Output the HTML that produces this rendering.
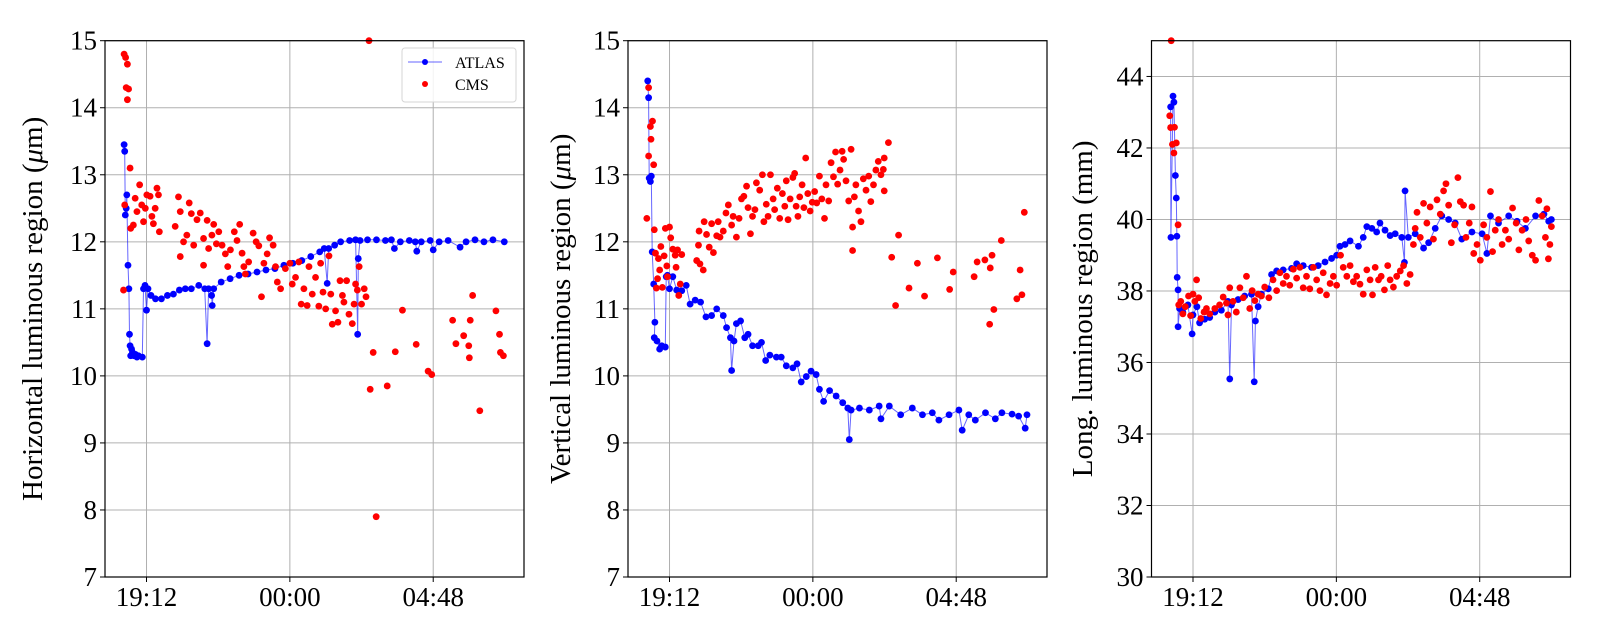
<!DOCTYPE html>
<html><head><meta charset="utf-8"><style>
html,body{margin:0;padding:0;background:#fff;}
svg{display:block;font-family:"Liberation Serif","DejaVu Serif",serif;}
</style></head><body>
<svg id="fig" width="1600" height="640" viewBox="0 0 1600 640" xmlns="http://www.w3.org/2000/svg"></svg>
<script>
// time in hours relative to 19:12
const xTickHours = [0, 4.8, 9.6];
const xTickLabels = ["19:12", "00:00", "04:48"];
const yTicksHV = [7, 8, 9, 10, 11, 12, 13, 14, 15];
const yTicksL = [30, 32, 34, 36, 38, 40, 42, 44];

const hAtlasT = [-0.75,-0.73,-0.71,-0.68,-0.66,-0.62,-0.59,-0.57,-0.55,-0.53,-0.50,-0.47,-0.42,-0.37,-0.32,-0.27,-0.14,-0.10,-0.05,0.0,0.05,0.15,0.3,0.5,0.7,0.9,1.1,1.3,1.5,1.75,1.95,2.03,2.08,2.18,2.2,2.25,2.5,2.8,3.1,3.4,3.7,4.0,4.3,4.6,4.9,5.2,5.5,5.8,5.95,6.05,6.1,6.3,6.5,6.8,7.0,7.07,7.09,7.15,7.4,7.7,8.0,8.2,8.3,8.5,8.8,9.0,9.05,9.2,9.5,9.6,9.8,10.1,10.5,10.7,11.0,11.3,11.6,11.98];
const hAtlasV = [13.45,13.35,12.4,12.5,12.7,11.65,11.3,10.62,10.45,10.3,10.4,10.35,10.3,10.32,10.28,10.3,10.28,11.3,11.35,10.98,11.3,11.2,11.15,11.15,11.2,11.22,11.28,11.3,11.3,11.35,11.3,10.48,11.3,11.2,11.05,11.3,11.4,11.45,11.5,11.52,11.55,11.58,11.6,11.65,11.68,11.72,11.78,11.85,11.9,11.38,11.9,11.95,12.0,12.02,12.03,10.62,11.75,12.02,12.03,12.03,12.02,12.03,11.9,12.0,12.02,12.0,11.86,12.0,12.02,11.88,12.0,12.02,11.92,12.0,12.03,12.0,12.03,12.0];
const hCmsT = [-0.75,-0.70,-0.64,-0.68,-0.60,-0.64,-0.77,-0.73,-0.55,-0.53,-0.44,-0.38,-0.23,-0.32,-0.16,-0.10,-0.04,0.01,0.12,0.18,0.23,0.35,0.40,0.43,0.29,0.96,1.07,1.13,1.13,1.24,1.35,1.43,1.50,1.58,1.69,1.80,1.91,1.91,2.03,2.08,2.19,2.25,2.34,2.42,2.53,2.64,2.72,2.81,2.94,3.03,3.12,3.20,3.26,3.31,3.42,3.57,3.67,3.76,3.85,3.93,4.04,4.12,4.24,4.32,4.38,4.49,4.65,4.80,4.88,4.99,5.10,5.18,5.27,5.38,5.44,5.55,5.66,5.77,5.83,5.91,6.00,6.11,6.17,6.22,6.33,6.41,6.48,6.56,6.61,6.70,6.78,6.89,6.95,7.00,7.06,7.12,7.20,7.29,7.35,7.45,7.49,7.59,7.69,8.06,8.33,8.57,9.03,9.43,9.55,10.25,10.36,10.62,10.79,10.81,10.84,10.92,11.16,11.70,11.82,11.85,11.95];
const hCmsV = [14.8,14.75,14.65,14.3,14.28,14.12,11.28,12.55,13.1,12.2,12.25,12.65,12.85,12.45,12.55,12.3,12.5,12.7,12.68,12.38,12.27,12.8,12.7,12.15,12.5,12.23,12.67,12.45,11.78,12.0,12.1,12.58,12.42,11.95,12.33,12.43,12.05,11.65,12.32,11.9,12.1,12.26,11.97,12.15,11.95,11.82,11.63,11.88,12.15,12.02,12.26,11.83,11.63,11.52,11.7,12.13,12.0,11.94,11.18,11.68,11.82,12.06,11.95,11.63,11.4,11.3,11.6,11.68,11.37,11.47,11.7,11.07,11.3,11.05,11.63,11.22,11.47,11.04,11.68,11.25,11.0,11.79,11.22,10.77,10.97,10.8,11.42,11.2,11.1,11.42,10.92,10.78,11.07,11.37,11.28,11.63,11.07,11.3,11.18,15.0,9.8,10.35,7.9,9.85,10.36,10.98,10.47,10.07,10.02,10.83,10.48,10.6,10.45,10.27,10.83,11.2,9.48,10.97,10.62,10.35,10.3];

const vAtlasT = [-0.73,-0.70,-0.68,-0.64,-0.61,-0.58,-0.53,-0.49,-0.51,-0.42,-0.33,-0.26,-0.14,-0.11,-0.07,0,0.11,0.24,0.41,0.56,0.69,0.86,1.04,1.22,1.41,1.58,1.8,1.91,2.04,2.08,2.16,2.24,2.38,2.52,2.63,2.78,2.97,3.08,3.22,3.36,3.58,3.74,3.91,4.13,4.27,4.41,4.58,4.74,4.91,5.02,5.16,5.36,5.58,5.8,5.97,6.02,6.08,6.36,6.69,7.02,7.08,7.36,7.74,8.13,8.47,8.8,9.02,9.36,9.69,9.8,10.02,10.24,10.58,10.91,11.13,11.47,11.69,11.91,11.97];
const vAtlasV = [14.4,14.15,12.95,12.9,12.98,11.85,11.37,10.8,10.57,10.52,10.4,10.45,10.43,11.48,11.5,11.3,11.48,11.28,11.27,11.35,11.07,11.13,11.1,10.88,10.9,11.0,10.9,10.72,10.57,10.08,10.52,10.78,10.82,10.57,10.62,10.45,10.45,10.5,10.23,10.31,10.28,10.28,10.15,10.12,10.18,9.91,9.99,10.07,10.02,9.8,9.62,9.78,9.7,9.6,9.52,9.05,9.49,9.52,9.49,9.55,9.36,9.55,9.42,9.52,9.42,9.45,9.34,9.42,9.49,9.19,9.42,9.34,9.45,9.36,9.45,9.43,9.4,9.22,9.42];
const vCmsT = [-0.76,-0.70,-0.70,-0.64,-0.62,-0.57,-0.53,-0.51,-0.47,-0.44,-0.40,-0.37,-0.33,-0.29,-0.24,-0.18,-0.14,-0.09,-0.07,0,0.04,0.11,0.19,0.22,0.27,0.31,0.36,0.41,0.91,0.97,0.99,1.02,1.13,1.16,1.24,1.33,1.41,1.47,1.58,1.63,1.69,1.8,1.89,1.97,2.08,2.13,2.24,2.33,2.41,2.49,2.58,2.63,2.71,2.78,2.86,2.91,3.02,3.11,3.16,3.24,3.3,3.38,3.47,3.52,3.61,3.69,3.78,3.86,3.91,3.97,4.04,4.13,4.19,4.24,4.3,4.36,4.44,4.5,4.56,4.63,4.71,4.78,4.86,4.93,5.02,5.1,5.19,5.24,5.33,5.41,5.49,5.56,5.63,5.71,5.78,5.83,5.91,6.0,6.08,6.13,6.13,6.19,6.24,6.33,6.41,6.49,6.58,6.67,6.74,6.83,6.91,6.99,7.08,7.16,7.19,7.19,7.33,7.44,7.57,7.67,8.02,8.3,8.54,8.97,9.38,9.5,10.2,10.3,10.56,10.72,10.74,10.8,10.86,11.11,11.63,11.74,11.8,11.88];
const vCmsV = [12.35,13.28,14.3,13.72,13.53,13.8,13.15,12.18,11.83,11.31,11.45,11.75,11.58,11.93,11.32,11.79,12.2,11.64,11.48,12.22,12.06,11.89,11.8,11.62,11.88,11.2,11.37,11.81,11.72,11.95,12.16,11.67,11.58,12.3,12.11,11.92,12.27,11.84,12.09,12.3,12.07,12.16,12.43,12.55,12.25,12.38,12.07,12.35,12.64,12.68,12.83,12.51,12.12,12.38,12.48,12.88,12.77,13.0,12.3,12.56,12.38,13.0,12.64,12.48,12.8,12.35,12.72,12.53,12.91,12.33,12.64,12.96,13.02,12.53,12.38,12.67,12.85,12.51,13.25,12.72,12.46,12.59,12.75,12.58,12.98,12.64,12.35,12.85,12.61,13.18,12.97,13.34,12.86,13.07,13.35,13.23,12.91,12.61,13.38,11.87,12.22,12.67,12.85,12.46,12.3,12.94,12.77,12.98,12.6,12.85,13.07,13.2,13.0,13.08,13.25,12.76,13.48,11.77,11.05,12.1,11.31,11.68,11.19,11.76,11.29,11.55,11.48,11.7,11.73,10.77,11.61,11.8,10.99,12.02,11.15,11.58,11.21,12.44];

const lAtlasT = [-0.75,-0.74,-0.67,-0.64,-0.59,-0.56,-0.54,-0.53,-0.5,-0.5,-0.45,-0.34,-0.17,-0.03,0,0.13,0.22,0.39,0.56,0.73,0.95,1.17,1.23,1.29,1.51,1.73,1.96,2.05,2.09,2.18,2.29,2.52,2.63,2.8,3.02,3.3,3.47,3.69,3.97,4.19,4.42,4.64,4.81,4.92,5.09,5.26,5.54,5.7,5.82,5.99,6.15,6.26,6.43,6.6,6.77,6.99,7.08,7.1,7.21,7.44,7.72,7.89,8.11,8.33,8.56,8.78,9.0,9.34,9.68,9.84,9.96,10.23,10.57,10.85,11.13,11.47,11.75,11.91,12.0];
const lAtlasV = [43.15,39.5,43.45,43.28,41.23,40.6,39.53,38.38,38.03,37.0,37.51,37.41,37.61,36.8,37.33,37.56,37.11,37.21,37.26,37.41,37.46,37.71,35.54,37.61,37.76,37.86,37.91,35.46,37.16,37.56,37.91,38.06,38.46,38.56,38.59,38.63,38.76,38.71,38.66,38.71,38.81,38.91,39.0,39.25,39.3,39.4,39.25,39.5,39.8,39.75,39.65,39.9,39.7,39.55,39.6,39.5,38.8,40.8,39.5,39.6,39.2,39.35,39.75,40.1,40.0,39.9,39.45,39.65,39.6,39.05,40.1,39.9,40.1,39.95,39.75,40.1,40.15,39.95,40.0];
const lCmsT = [-0.73,-0.78,-0.75,-0.69,-0.62,-0.64,-0.56,-0.5,-0.48,-0.41,-0.34,-0.26,-0.15,-0.08,0,0.06,0.12,0.19,0.26,0.37,0.45,0.56,0.73,0.89,1.01,1.12,1.17,1.23,1.34,1.45,1.57,1.68,1.79,1.9,1.98,2.07,2.18,2.29,2.4,2.54,2.68,2.8,2.91,3.02,3.13,3.24,3.36,3.47,3.58,3.69,3.8,3.91,4.03,4.14,4.25,4.36,4.47,4.59,4.7,4.81,4.94,5.03,5.15,5.26,5.37,5.48,5.59,5.7,5.82,5.93,6.01,6.1,6.21,6.3,6.41,6.52,6.6,6.71,6.82,6.94,7.05,7.16,7.27,7.38,7.44,7.5,7.61,7.72,7.83,7.94,8.05,8.17,8.28,8.39,8.47,8.56,8.65,8.76,8.87,8.95,9.06,9.14,9.25,9.34,9.4,9.51,9.62,9.73,9.84,9.96,10.03,10.12,10.23,10.35,10.46,10.57,10.7,10.82,10.91,11.02,11.15,11.24,11.36,11.47,11.58,11.69,11.8,11.9,12.0,11.95,11.85];
const lCmsV = [45.0,42.9,42.57,42.1,42.58,41.86,42.14,39.85,37.61,37.71,37.36,37.56,37.86,37.31,37.91,37.71,38.31,37.81,37.23,37.41,37.51,37.36,37.51,37.61,37.83,37.66,37.33,38.09,37.71,37.41,38.09,37.81,38.41,37.51,38.01,37.73,37.91,37.86,38.11,37.81,38.31,38.01,38.51,38.21,38.41,38.16,38.61,38.36,38.66,38.09,38.41,38.06,38.66,38.31,38.01,38.51,37.89,38.21,38.41,38.16,39.0,38.66,38.41,38.71,38.26,38.41,38.19,37.91,38.59,38.31,37.89,38.66,38.31,38.41,38.03,38.71,38.31,38.11,38.41,38.56,38.71,38.21,38.46,39.3,39.75,40.2,39.5,40.45,39.9,40.35,39.45,40.55,40.15,40.8,41.0,40.4,39.35,39.85,41.17,40.5,40.4,39.5,39.9,40.35,39.05,39.3,38.86,39.85,39.5,40.78,39.1,39.7,40.0,39.3,39.7,39.45,40.32,39.9,39.15,39.7,40.0,39.4,39.0,38.86,40.53,40.1,39.5,38.9,39.8,39.3,40.3];

const NS = "http://www.w3.org/2000/svg";
const svg = document.getElementById("fig");
function mk(tag, attrs, parent){const e=document.createElementNS(NS,tag);for(const k in attrs)e.setAttribute(k,attrs[k]);(parent||svg).appendChild(e);return e;}

const X0 = -1.39, X1 = 12.64, TOP = 40.7, BOT = 577, W = 419;
const panels = [
 {left:105, ymin:7, ymax:15, ticks:yTicksHV, pre:"Horizontal luminous region (", mu:true, post:"m)", lx:42, at:hAtlasT, av:hAtlasV, ct:hCmsT, cv:hCmsV, legend:true, name:"horizontal-panel"},
 {left:628, ymin:7, ymax:15, ticks:yTicksHV, pre:"Vertical luminous region (", mu:true, post:"m)", lx:570, at:vAtlasT, av:vAtlasV, ct:vCmsT, cv:vCmsV, legend:false, name:"vertical-panel"},
 {left:1151.5, ymin:30, ymax:45, ticks:yTicksL, pre:"Long. luminous region (mm)", mu:false, post:"", lx:1092, at:lAtlasT, av:lAtlasV, ct:lCmsT, cv:lCmsV, legend:false, name:"longitudinal-panel"}
];

panels.forEach(p => {
  const g = mk("g", {});
  
  
  const xs = h => p.left + (h - X0) / (X1 - X0) * W;
  const ys = v => BOT - (v - p.ymin) / (p.ymax - p.ymin) * (BOT - TOP);
  const clip = "clip-" + p.name;
  const cp = mk("clipPath", {id: clip}, g);
  mk("rect", {x: p.left, y: TOP - 4, width: W, height: BOT - TOP + 4}, cp);
  p.ticks.forEach(t => {
    const y = ys(t);
    const gl = mk("line", {x1: p.left, x2: p.left + W, y1: y, y2: y, stroke: "#b0b0b0", "stroke-width": 1}, g);
    
    
    mk("line", {x1: p.left - 5, x2: p.left, y1: y, y2: y, stroke: "#000", "stroke-width": 1}, g);
    const tx = mk("text", {x: p.left - 8, y: y + 9, "text-anchor": "end", "font-size": 27, fill: "#000"}, g);
    tx.textContent = t;
    
    
  });
  xTickHours.forEach((h, i) => {
    const x = xs(h);
    const gl = mk("line", {x1: x, x2: x, y1: TOP, y2: BOT, stroke: "#b0b0b0", "stroke-width": 1}, g);
    
    
    mk("line", {x1: x, x2: x, y1: BOT, y2: BOT + 5, stroke: "#000", "stroke-width": 1}, g);
    const tx = mk("text", {x: x, y: BOT + 29, "text-anchor": "middle", "font-size": 27, fill: "#000"}, g);
    tx.textContent = xTickLabels[i];
    
    
  });
  const dg = mk("g", {"clip-path": "url(#" + clip + ")"}, g);
  let d = "";
  p.at.forEach((t, i) => { d += (i ? "L" : "M") + xs(t).toFixed(1) + "," + ys(p.av[i]).toFixed(1); });
  const line = mk("path", {d: d, fill: "none", stroke: "#0000ff", "stroke-opacity": 0.6, "stroke-width": 1}, dg);
  
  
  p.at.forEach((t, i) => {
    const c = mk("circle", {cx: xs(t), cy: ys(p.av[i]), r: 3.4, fill: "#0000ff"}, dg);
    
    
  });
  p.ct.forEach((t, i) => {
    const c = mk("circle", {cx: xs(t), cy: ys(p.cv[i]), r: 3.4, fill: "#ff0000"}, dg);
    
    
  });
  const frame = mk("rect", {x: p.left, y: TOP, width: W, height: BOT - TOP, fill: "none", stroke: "#000", "stroke-width": 1.2}, g);
  
  
  const cy = (TOP + BOT) / 2;
  const yl = mk("text", {x: p.lx, y: cy, "text-anchor": "middle", "font-size": 29, fill: "#000", transform: "rotate(-90 " + p.lx + " " + cy + ")"}, g);
  
  
  const s1 = mk("tspan", {}, yl); s1.textContent = p.pre;
  if (p.mu) {
    const s2 = mk("tspan", {"font-style": "italic"}, yl); s2.textContent = "\u03bc";
    const s3 = mk("tspan", {}, yl); s3.textContent = p.post;
  }
  if (p.legend) {
    const lg = mk("g", {}, g);
    
    
    mk("rect", {x: 402, y: 48, width: 114, height: 54, rx: 3, fill: "#fff", "fill-opacity": 0.85, stroke: "#d6d6d6", "stroke-width": 1}, lg);
    mk("line", {x1: 408, x2: 442, y1: 62, y2: 62, stroke: "#0000ff", "stroke-opacity": 0.6, "stroke-width": 1}, lg);
    mk("circle", {cx: 425, cy: 62, r: 3, fill: "#0000ff"}, lg);
    const t1 = mk("text", {x: 455, y: 68, "font-size": 16, fill: "#000"}, lg);
    t1.textContent = "ATLAS";
    
    
    mk("circle", {cx: 425, cy: 84, r: 3, fill: "#ff0000"}, lg);
    const t2 = mk("text", {x: 455, y: 90, "font-size": 16, fill: "#000"}, lg);
    t2.textContent = "CMS";
    
    
  }
});
</script>
</body></html>
